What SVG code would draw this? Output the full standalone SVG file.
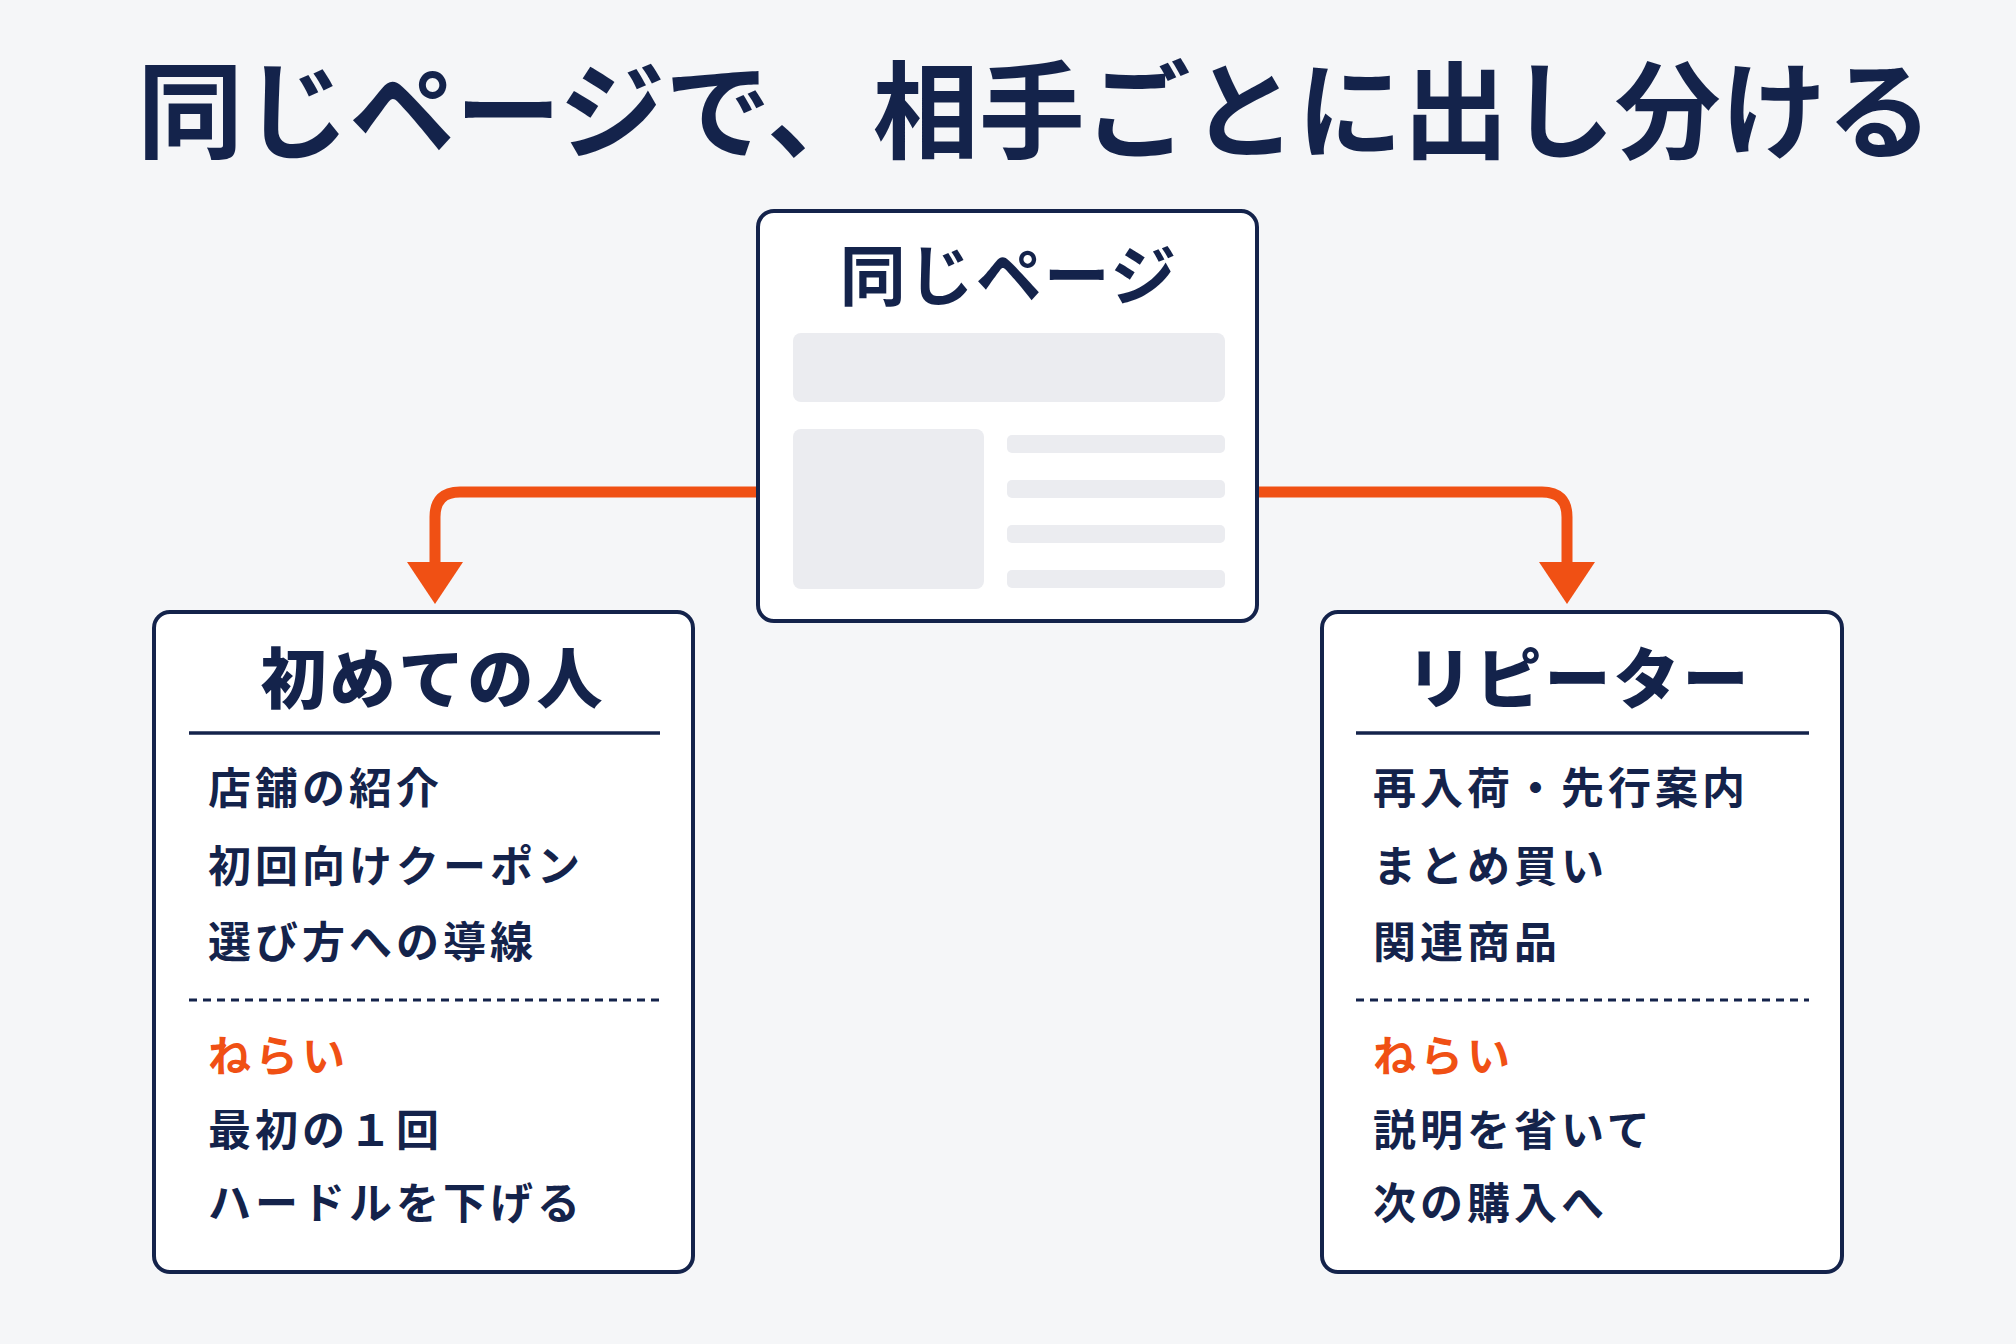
<svg xmlns="http://www.w3.org/2000/svg" width="2016" height="1344" viewBox="0 0 2016 1344">
<style>
text{font-family:"Noto Sans CJK JP","Noto Sans",sans-serif;font-weight:700;fill:#14234b}
.box{fill:#fff;stroke:#14234b;stroke-width:4}
.g{fill:#ebecf0}
.it{font-size:43px;letter-spacing:4px}
.hd{font-size:66px;letter-spacing:3px;font-weight:900}
.or{fill:#f05014}
.con{fill:none;stroke:#f05014;stroke-width:11}
</style>
<rect width="2016" height="1344" fill="#f5f6f8"/>
<text x="1035" y="150" font-size="106" text-anchor="middle" font-weight="900">同じページで、相手ごとに出し分ける</text>
<g id="connectors">
<path class="con" d="M758,492 H460 Q435,492 435,517 V570"/>
<path class="con" d="M1257,492 H1542 Q1567,492 1567,517 V570"/>
<path d="M407,562 H463 L435,604 Z" fill="#f05014"/>
<path d="M1539,562 H1595 L1567,604 Z" fill="#f05014"/>
</g>
<g id="page">
<rect class="box" x="758" y="211" width="499" height="410" rx="16"/>
<text x="1009" y="300" font-size="66" text-anchor="middle" font-weight="900" letter-spacing="2">同じページ</text>
<rect class="g" x="793" y="333" width="432" height="69" rx="8"/>
<rect class="g" x="793" y="429" width="191" height="160" rx="8"/>
<rect class="g" x="1007" y="435" width="218" height="18" rx="5"/>
<rect class="g" x="1007" y="480" width="218" height="18" rx="5"/>
<rect class="g" x="1007" y="525" width="218" height="18" rx="5"/>
<rect class="g" x="1007" y="570" width="218" height="18" rx="5"/>
</g>
<g id="first">
<rect class="box" x="154" y="612" width="539" height="660" rx="16"/>
<text class="hd" x="433" y="703" text-anchor="middle">初めての人</text>
<line x1="189" y1="733" x2="660" y2="733" stroke="#14234b" stroke-width="3.5"/>
<text class="it" x="208" y="804">店舗の紹介</text>
<text class="it" x="208" y="882">初回向けクーポン</text>
<text class="it" x="208" y="958">選び方への導線</text>
<line x1="189" y1="1000" x2="660" y2="1000" stroke="#14234b" stroke-width="3" stroke-dasharray="8,6"/>
<text class="it or" x="208" y="1072">ねらい</text>
<text class="it" x="208" y="1146">最初の１回</text>
<text class="it" x="208" y="1219">ハードルを下げる</text>
</g>
<g id="repeater">
<rect class="box" x="1322" y="612" width="520" height="660" rx="16"/>
<text class="hd" x="1579" y="703" text-anchor="middle">リピーター</text>
<line x1="1356" y1="733" x2="1809" y2="733" stroke="#14234b" stroke-width="3.5"/>
<text class="it" x="1373" y="804">再入荷・先行案内</text>
<text class="it" x="1373" y="882">まとめ買い</text>
<text class="it" x="1373" y="958">関連商品</text>
<line x1="1356" y1="1000" x2="1809" y2="1000" stroke="#14234b" stroke-width="3" stroke-dasharray="8,6"/>
<text class="it or" x="1373" y="1072">ねらい</text>
<text class="it" x="1373" y="1146">説明を省いて</text>
<text class="it" x="1373" y="1219">次の購入へ</text>
</g>
</svg>
